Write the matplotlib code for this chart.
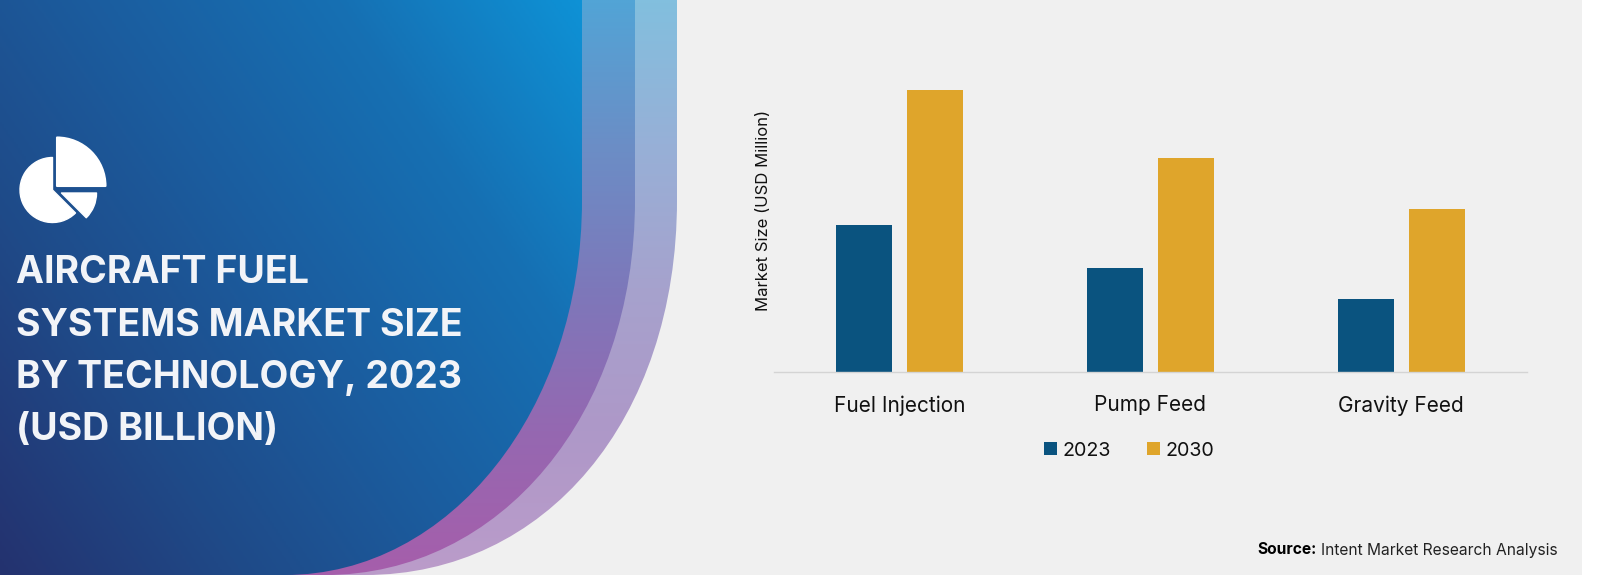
import numpy as np
import matplotlib
matplotlib.use('Agg')
import matplotlib.pyplot as plt
from matplotlib.colors import LinearSegmentedColormap
from matplotlib.path import Path
from matplotlib.patches import PathPatch, Rectangle, Wedge

categories = ['Fuel Injection', 'Pump Feed', 'Gravity Feed']
values_2023 = [147, 104, 73]
values_2030 = [282, 214, 163]
series_names = ['2023', '2030']
title_lines = ['AIRCRAFT FUEL', 'SYSTEMS MARKET SIZE', 'BY TECHNOLOGY, 2023', '(USD BILLION)']

plt.rcParams['font.family'] = ['Inter', 'DejaVu Sans']

fig = plt.figure(figsize=(16, 5.75), dpi=100, facecolor='white')

# background panel, works in image pixels
bg = fig.add_axes([0, 0, 1, 1])
bg.set_xlim(0, 1600)
bg.set_ylim(575, 0)
bg.axis('off')
bg.add_patch(Rectangle((0, 0), 1582, 575, color='#f0f0f0', lw=0))


def curve(x_right, y_start, y_ctrl, x_ctrl, x_end):
    verts = [(0, 0), (x_right, 0), (x_right, y_start), (x_right, y_ctrl),
             (x_ctrl, 575), (x_end, 575), (0, 575), (0, 0)]
    codes = [Path.MOVETO, Path.LINETO, Path.LINETO, Path.CURVE4,
             Path.CURVE4, Path.CURVE4, Path.LINETO, Path.CLOSEPOLY]
    return Path(verts, codes)


def fill_gradient(path, stops, xw, yw):
    cmap = LinearSegmentedColormap.from_list('g', stops)
    xx, yy = np.meshgrid(np.arange(0, 700, 2), np.arange(0, 576, 2))
    t = xw * xx / 582 + yw * (575 - yy) / 575
    im = bg.imshow(t, cmap=cmap, vmin=0, vmax=1, extent=(0, 700, 575, 0), aspect='auto', zorder=2)
    patch = PathPatch(path, transform=bg.transData, fc='none', ec='none')
    bg.add_patch(patch)
    im.set_clip_path(patch)


fill_gradient(curve(677, 200, 420, 545, 365),
              ['#bb9cca', '#ae98c8', '#a6a2cd', '#97b0d7', '#82bfde'], 0.0, 1.0)
fill_gradient(curve(635, 200, 415, 500, 325),
              ['#a65eab', '#9568b1', '#7d78ba', '#6b8ec6', '#52a4d6'], 0.0, 1.0)
fill_gradient(curve(582, 200, 410, 450, 285),
              ['#24326f', '#1f4a88', '#1b5d9f', '#1670b3', '#0e92d6'], 0.6, 0.4)
bg.set_xlim(0, 1600)
bg.set_ylim(575, 0)

# pie icon
bg.add_patch(Wedge((57, 186), 48.5, 270, 360, fc='white', ec='white', lw=1.5, joinstyle='round', zorder=3))
bg.add_patch(Wedge((52.5, 190), 32.5, 45, 270, fc='white', ec='white', lw=1, joinstyle='round', zorder=3))
bg.add_patch(Wedge((61.5, 193), 35, 0, 45, fc='white', ec='white', lw=1, joinstyle='round', zorder=3))

for line, y in zip(title_lines, [283, 336, 388, 440]):
    bg.text(16, y, line, color='#f2f4f8', fontsize=27, fontweight='bold',
            va='baseline', ha='left', zorder=4)

# the chart
ax = fig.add_axes([774 / 1600, (575 - 372) / 575, 752.5 / 1600, 300 / 575])
ax.patch.set_alpha(0)
x = np.arange(len(categories))
bars_a = ax.bar(x - 0.1414, values_2023, 0.223, color='#0a537f', label=series_names[0])
bars_b = ax.bar(x + 0.1414, values_2030, 0.223, color='#dfa52b', label=series_names[1])
ax.set_xlim(-0.5, 2.5)
ax.set_ylim(0, 300)
ax.set_yticks([])
ax.set_xticks(x)
ax.set_xticklabels(categories, fontsize=15, color='#111111')
ax.tick_params(axis='x', length=0, pad=16.6)
for s in ['top', 'left', 'right']:
    ax.spines[s].set_visible(False)
ax.spines['bottom'].set_color('#d4d4d4')
ax.spines['bottom'].set_linewidth(1)

bg.text(763, 210.5, 'Market Size (USD Million)', rotation=90, fontsize=12, color='#111111',
        ha='center', va='center', zorder=4)

ax.legend(handles=[bars_a, bars_b], ncol=2, frameon=False, fontsize=14.2,
          loc='center', bbox_to_anchor=((1129 - 774) / 752.5, -78.5 / 300),
          handlelength=0.67, handleheight=0.67, handletextpad=0.3, columnspacing=1.8,
          labelcolor='#111111')

bg.text(1317, 550, 'Source:', fontsize=11.2, fontweight='bold', color='black',
        ha='right', va='center', zorder=4)
bg.text(1558, 550, 'Intent Market Research Analysis', fontsize=11.2, color='#222222',
        ha='right', va='center', zorder=4)

fig.savefig('out.png', dpi=100)
